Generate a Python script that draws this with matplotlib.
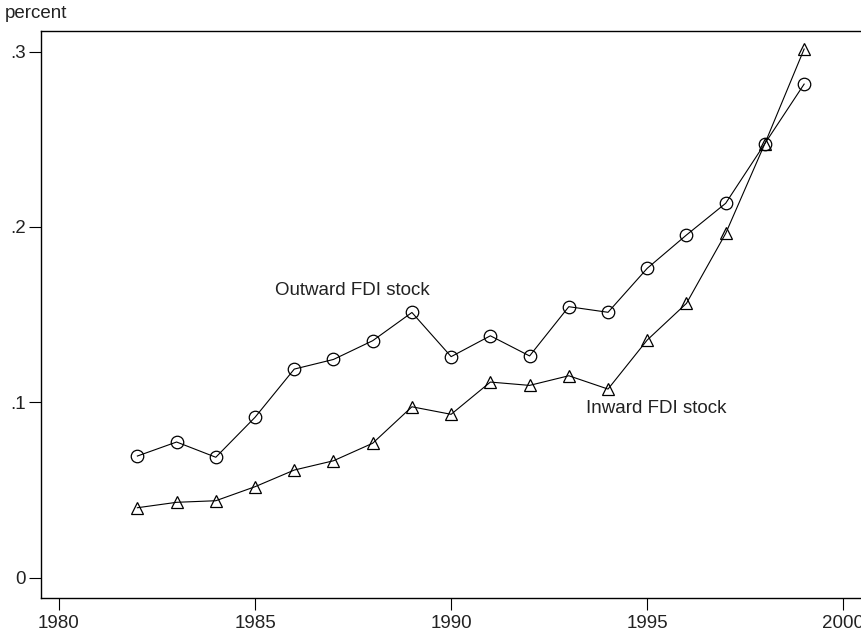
import matplotlib
matplotlib.use("Agg")
import matplotlib.pyplot as plt

plt.rcParams['font.family'] = ['Liberation Sans', 'DejaVu Sans']

# years and FDI stock shares
years = [1982, 1983, 1984, 1985, 1986, 1987, 1988, 1989, 1990,
         1991, 1992, 1993, 1994, 1995, 1996, 1997, 1998, 1999]
outward = [0.0693, 0.0773, 0.0686, 0.0914, 0.1189, 0.1244, 0.1351, 0.1512, 0.1260,
           0.1379, 0.1264, 0.1545, 0.1513, 0.1764, 0.1954, 0.2135, 0.2476, 0.2815]
inward = [0.0398, 0.0429, 0.0438, 0.0518, 0.0613, 0.0666, 0.0766, 0.0974, 0.0931,
          0.1115, 0.1096, 0.1151, 0.1075, 0.1355, 0.1564, 0.1963, 0.2476, 0.3015]

xticks = [1980, 1985, 1990, 1995, 2000]
yticks = [0, 0.1, 0.2, 0.3]
ytick_labels = ['0', '.1', '.2', '.3']

fs = 13.5
txt = '#222222'

fig = plt.figure(figsize=(8.61, 6.4), dpi=100)
ax = fig.add_axes([0.0473, 0.0661, 0.9527, 0.8855])

ax.plot(years, outward, color='black', lw=0.8, marker='o', markersize=9,
        markerfacecolor='none', markeredgecolor='black', markeredgewidth=0.9)
ax.plot(years, inward, color='black', lw=0.8, marker='^', markersize=9,
        markerfacecolor='none', markeredgecolor='black', markeredgewidth=0.9)

ax.text(1985.5, 0.1636, 'Outward FDI stock', fontsize=fs, color=txt, va='center', ha='left')
ax.text(1993.44, 0.0965, 'Inward FDI stock', fontsize=fs, color=txt, va='center', ha='left')

ax.set_xlim(1979.536, 2000.45)
ax.set_ylim(-0.01152, 0.3118)
ax.set_xticks(xticks)
ax.set_xticklabels([str(x) for x in xticks])
ax.set_yticks(yticks)
ax.set_yticklabels(ytick_labels)
ax.tick_params(direction='out', length=8.6, width=0.8, labelsize=fs,
               labelcolor=txt, pad=2)
ax.tick_params(axis='x', pad=4)

for s in ['top', 'left', 'bottom']:
    ax.spines[s].set_linewidth(1.0)
ax.spines['right'].set_visible(False)

fig.text(5 / 861, 1 - 13 / 640, 'percent', fontsize=fs, color=txt, va='center', ha='left')

fig.savefig('out.png', dpi=100)
